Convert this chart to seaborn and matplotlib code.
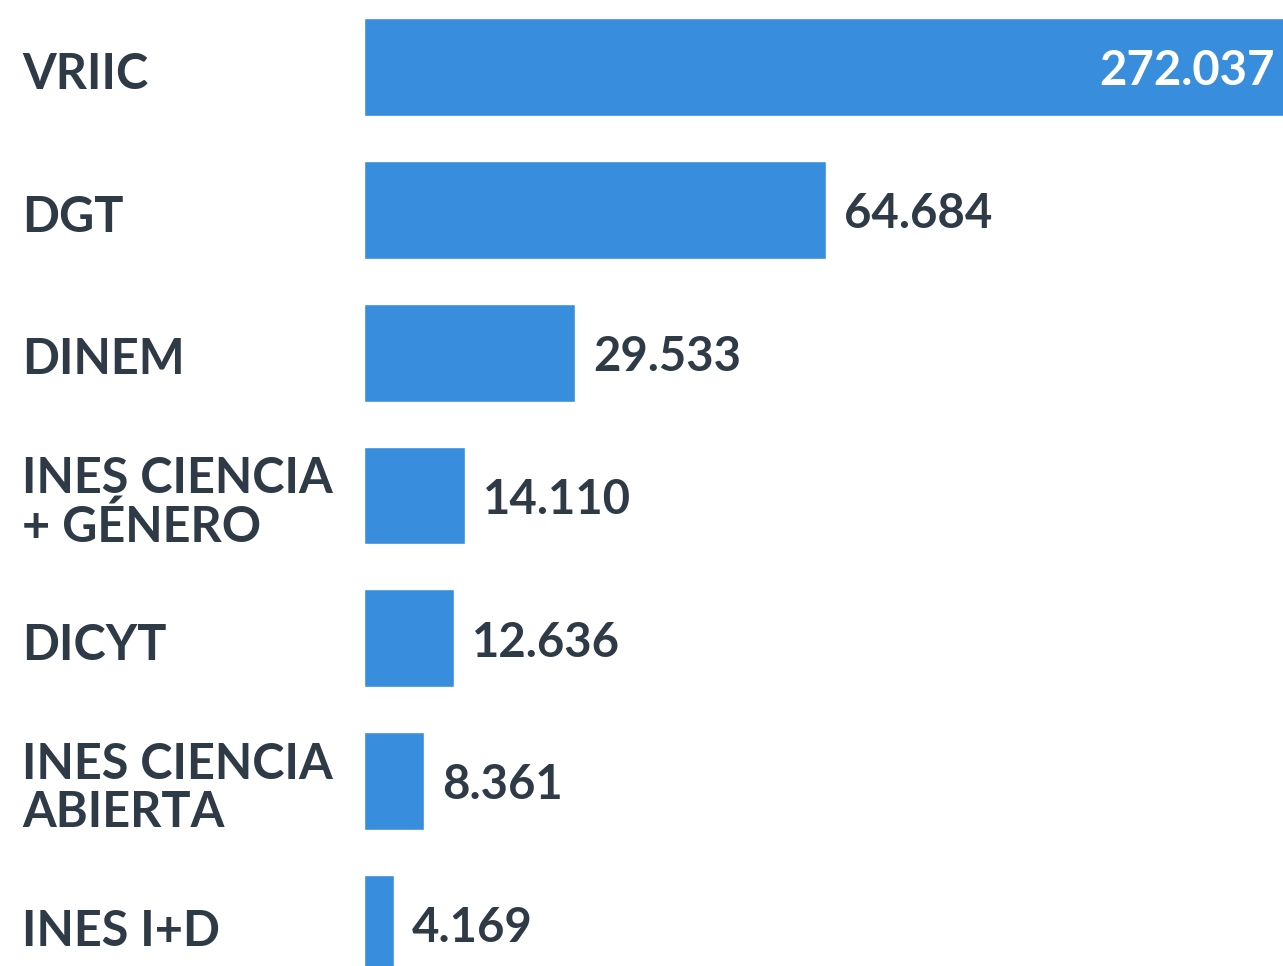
import matplotlib
matplotlib.use("Agg")
import matplotlib.pyplot as plt
import seaborn as sns
import pandas as pd

# datos (separador de miles con punto, como en la imagen)
unidades = ["VRIIC", "DGT", "DINEM", "INES CIENCIA\n+ GÉNERO", "DICYT",
            "INES CIENCIA\nABIERTA", "INES I+D"]
valores = [272037, 64684, 29533, 14110, 12636, 8361, 4169]
etiquetas = ["272.037", "64.684", "29.533", "14.110", "12.636", "8.361", "4.169"]

df = pd.DataFrame({"unidad": unidades, "valor": valores, "etiqueta": etiquetas})

sns.set_theme(style="white")
plt.rcParams["font.family"] = ["Lato", "DejaVu Sans"]

azul = "#398ddd"
texto = "#2e3b47"

fig = plt.figure(figsize=(12.83, 9.66), dpi=100)
ax = fig.add_axes([364 / 1283, 0, 1 - 364 / 1283, 1])

sns.barplot(data=df, x="valor", y="unidad", orient="h", color=azul,
            saturation=1, width=0.685, ax=ax)

xmax = 128800
ax.set_xlim(0, xmax)
ax.set_ylim(6.294, -0.469)

for i, row in df.iterrows():
    if row["valor"] > xmax:
        ax.annotate(row["etiqueta"], xy=(1, i), xycoords=("axes fraction", "data"),
                    xytext=(-6, -3), textcoords="offset points",
                    ha="right", va="center", color="white",
                    fontsize=34, fontweight="bold")
    else:
        ax.annotate(row["etiqueta"], xy=(row["valor"], i),
                    xytext=(13, -3), textcoords="offset points",
                    ha="left", va="center", color=texto,
                    fontsize=34, fontweight="bold")

ax.set_yticks([])
ax.set_xticks([])
ax.set_xlabel("")
ax.set_ylabel("")
sns.despine(ax=ax, left=True, bottom=True)

for i, nombre in enumerate(unidades):
    fig.text(22 / 1283, ax.transData.transform((0, i))[1] / 966 - 0.0075, nombre,
             ha="left", va="center", color=texto, fontsize=35,
             fontweight="bold", linespacing=1.07)

fig.savefig("out.png", dpi=100)
